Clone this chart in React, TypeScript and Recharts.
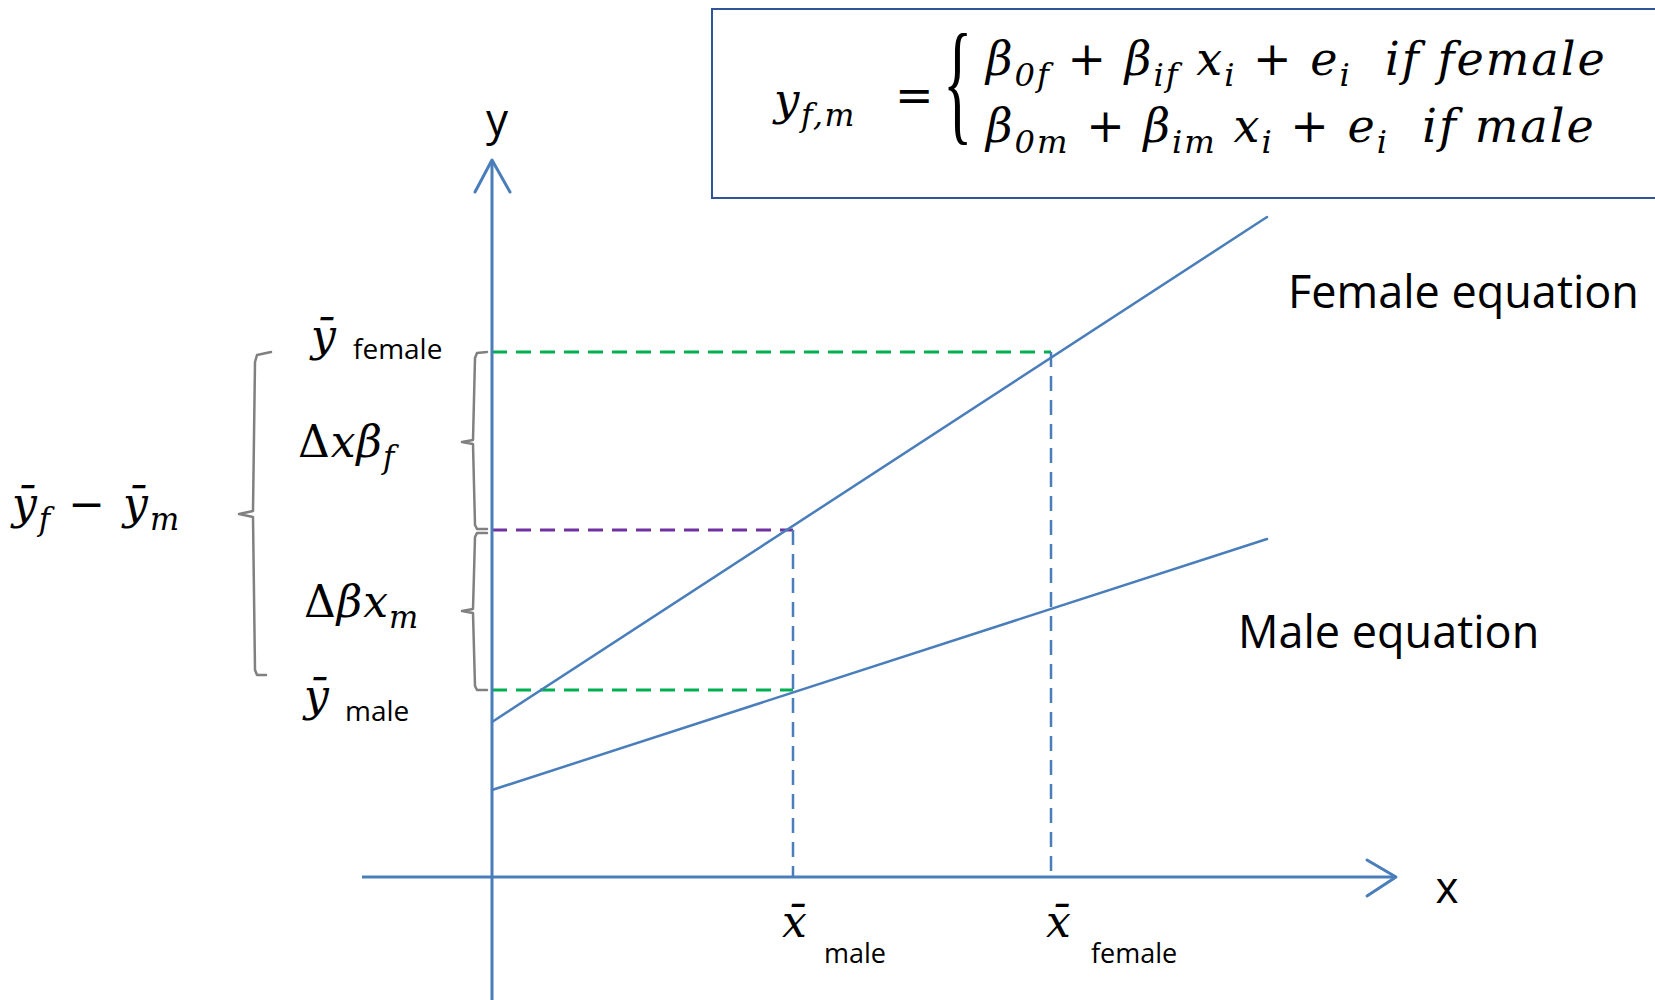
import React from "react";
import { ComposedChart, Line, XAxis, YAxis, ReferenceLine, ReferenceDot, ReferenceArea } from "recharts";

// Oaxaca-Blinder style sketch: two regression lines, group means and the decomposition of the gap.
// Units are arbitrary (origin of the drawn axes at 0,0).

const lineX = [0, 77.5];
const femaleY = [15.5, 66.0];
const maleY = [8.7, 33.8];

// group means of x: [male, female]
const xBar = [30.1, 55.9];
// y levels: [male mean, female line at male mean x, female mean]
const yBar = [18.7, 34.7, 52.5];

const xAxisRange = [-13.0, 90.4];
const yAxisRange = [-12.3, 71.7];

const W = 1655;
const H = 1000;
const X_DOMAIN = [-49.2, 116.3];
const Y_DOMAIN = [-12.3, 87.7];

const BLUE = "#4a7ebb";
const GREEN = "#00b050";
const PURPLE = "#7030a0";
const GREY = "#808080";
const MATH = '"DejaVu Serif", "Liberation Serif", serif';
const SANS = '"Open Sans", Lato, sans-serif';

const pts = (xs: number[], ys: number[]) => xs.map((x, i) => ({ x, y: ys[i] }));

const femaleLine = pts(lineX, femaleY);
const maleLine = pts(lineX, maleY);

// arrow heads and brackets (annotation shapes, data units)
const yArrow = pts([-1.7, 0, 1.8], [68.5, yAxisRange[1], 68.5]);
const xArrow = pts([87.5, xAxisRange[1], 87.5], [1.7, 0, -1.9]);
const bigBracket = pts(
  [-22.1, -23.5, -23.7, -23.9, -25.3, -23.9, -23.7, -23.5, -22.6],
  [yBar[2], yBar[2] - 0.3, yBar[2] - 1.0, 36.6, 36.3, 36.0, yBar[0] + 2, yBar[0] + 1.5, yBar[0] + 1.5]
);
const upperBracket = pts(
  [-0.5, -1.5, -1.7, -1.9, -3.0, -1.9, -1.7, -1.5, -0.5],
  [yBar[2], yBar[2] - 0.1, yBar[2] - 0.6, 43.7, 43.5, 43.3, 35.2, 34.8, 34.8]
);
const lowerBracket = pts(
  [-0.5, -1.5, -1.7, -1.9, -3.0, -1.9, -1.7, -1.5, -0.5],
  [34.4, 34.4, 34.0, 26.8, 26.6, 26.4, yBar[0] + 0.4, yBar[0], yBar[0]]
);

// [text, subscript, upright]
type Part = [string, string?, boolean?];

function mathText(parts: Part[], size: number, spacing = 1) {
  const sh = size * 0.24;
  const out: React.ReactNode[] = [];
  let shifted = false;
  parts.forEach(([main, sub, up], i) => {
    out.push(
      <tspan key={i + "m"} dy={shifted ? -sh : 0} fontSize={size} fontStyle={up ? "normal" : "italic"}>
        {main}
      </tspan>
    );
    shifted = false;
    if (sub) {
      out.push(
        <tspan key={i + "s"} dy={sh} fontSize={size * 0.7} fontStyle="italic">
          {sub}
        </tspan>
      );
      shifted = true;
    }
  });
  return (
    <text x={0} y={0} fontFamily={MATH} letterSpacing={spacing} fill="#000" style={{ whiteSpace: "pre" }}>
      {out}
    </text>
  );
}

function sansText(s: string, size: number, anchor: "start" | "middle" = "start") {
  return (
    <text x={0} y={0} fontFamily={SANS} fontSize={size} textAnchor={anchor} fill="#000">
      {s}
    </text>
  );
}

function label(key: string, x: number, y: number, node: React.ReactNode) {
  return (
    <ReferenceDot
      key={key}
      x={x}
      y={y}
      r={0}
      ifOverflow="visible"
      shape={(p: any) => <g transform={`translate(${p.cx},${p.cy})`}>{node}</g>}
    />
  );
}

function poly(key: string, data: { x: number; y: number }[], stroke: string, width: number) {
  return (
    <Line
      key={key}
      data={data}
      dataKey="y"
      type="linear"
      stroke={stroke}
      strokeWidth={width}
      dot={false}
      activeDot={false}
      isAnimationActive={false}
      strokeLinecap="round"
      strokeLinejoin="round"
    />
  );
}

export default function App() {
  const dash = "15 9";
  return (
    <div style={{ position: "absolute", left: 0, top: 0, width: W, height: H, background: "#fff" }}>
      <ComposedChart width={W} height={H} margin={{ top: 0, right: 0, bottom: 0, left: 0 }}>
        <XAxis dataKey="x" type="number" domain={X_DOMAIN} allowDataOverflow hide />
        <YAxis type="number" domain={Y_DOMAIN} allowDataOverflow hide />

        <ReferenceArea
          x1={22.0}
          x2={117}
          y1={67.9}
          y2={86.8}
          ifOverflow="visible"
          fill="#fff"
          fillOpacity={1}
          stroke="#2f5597"
          strokeWidth={2}
        />

        {/* dashed guides */}
        <ReferenceLine segment={[{ x: 0, y: yBar[2] }, { x: xBar[1], y: yBar[2] }]} stroke={GREEN} strokeWidth={3} strokeDasharray={dash} />
        <ReferenceLine segment={[{ x: 0, y: yBar[1] }, { x: xBar[0], y: yBar[1] }]} stroke={PURPLE} strokeWidth={3} strokeDasharray={dash} />
        <ReferenceLine segment={[{ x: 0, y: yBar[0] }, { x: xBar[0], y: yBar[0] }]} stroke={GREEN} strokeWidth={3} strokeDasharray={dash} />
        <ReferenceLine segment={[{ x: xBar[0], y: yBar[1] }, { x: xBar[0], y: 0 }]} stroke={BLUE} strokeWidth={2.5} strokeDasharray={dash} />
        <ReferenceLine segment={[{ x: xBar[1], y: yBar[2] }, { x: xBar[1], y: 0 }]} stroke={BLUE} strokeWidth={2.5} strokeDasharray={dash} />

        {/* axes */}
        <ReferenceLine segment={[{ x: xAxisRange[0], y: 0 }, { x: xAxisRange[1], y: 0 }]} stroke={BLUE} strokeWidth={3} />
        <ReferenceLine segment={[{ x: 0, y: yAxisRange[0] }, { x: 0, y: yAxisRange[1] }]} stroke={BLUE} strokeWidth={3} />
        {poly("ya", yArrow, BLUE, 3)}
        {poly("xa", xArrow, BLUE, 3)}

        {/* regression lines */}
        {poly("female", femaleLine, BLUE, 2.5)}
        {poly("male", maleLine, BLUE, 2.5)}

        {/* brackets */}
        {poly("b1", bigBracket, GREY, 2.5)}
        {poly("b2", upperBracket, GREY, 2.5)}
        {poly("b3", lowerBracket, GREY, 2.5)}

        {label("ylab", 0.5, 74.2, sansText("y", 44, "middle"))}
        {label("xlab", 95.5, -2.6, sansText("x", 44, "middle"))}
        {label("feq", 79.6, 56.9, sansText("Female equation", 45))}
        {label("meq", 74.6, 22.9, sansText("Male equation", 45))}

        {label("xbm", 29.0, -6.0, mathText([["x\u0304"]], 44))}
        {label("xbmt", 33.2, -8.6, sansText("male", 27))}
        {label("xbf", 55.4, -6.0, mathText([["x\u0304"]], 44))}
        {label("xbft", 59.9, -8.6, sansText("female", 27))}

        {label("ybf", -18.1, 52.6, mathText([["\u0233"]], 44))}
        {label("ybft", -13.9, 51.8, sansText("female", 28))}
        {label("ybm", -18.8, 16.6, mathText([["\u0233"]], 44))}
        {label("ybmt", -14.7, 15.6, sansText("male", 28))}

        {label("dxb", -19.4, 42.0, mathText([["\u0394", undefined, true], ["x\u03B2", "f"]], 44))}
        {label("dbx", -18.8, 26.0, mathText([["\u0394", undefined, true], ["\u03B2x", "m"]], 44))}
        {label("gap", -48.0, 35.8, mathText([["\u0233", "f"], [" \u2212 ", undefined, true], ["\u0233", "m"]], 44, 2))}

        {label("fy", 28.2, 76.2, mathText([["y", "f,m"]], 45, 1.5))}
        {label("feq2", 40.3, 76.6, mathText([["=", undefined, true]], 46))}
        {label(
          "brace",
          45.1,
          75.0,
          <text x={0} y={0} fontFamily='"Liberation Serif", serif' fontSize={136} transform="scale(0.45,1)" fill="#000">
            {"{"}
          </text>
        )}
        {label(
          "l1",
          49.4,
          80.2,
          mathText(
            [["\u03B2", "0f"], [" + ", undefined, true], ["\u03B2", "if"], [" x", "i"], [" + ", undefined, true], ["e", "i"], ["  if female"]],
            46,
            2
          )
        )}
        {label(
          "l2",
          49.4,
          73.5,
          mathText(
            [["\u03B2", "0m"], [" + ", undefined, true], ["\u03B2", "im"], [" x", "i"], [" + ", undefined, true], ["e", "i"], ["  if male"]],
            46,
            2
          )
        )}
      </ComposedChart>
    </div>
  );
}
